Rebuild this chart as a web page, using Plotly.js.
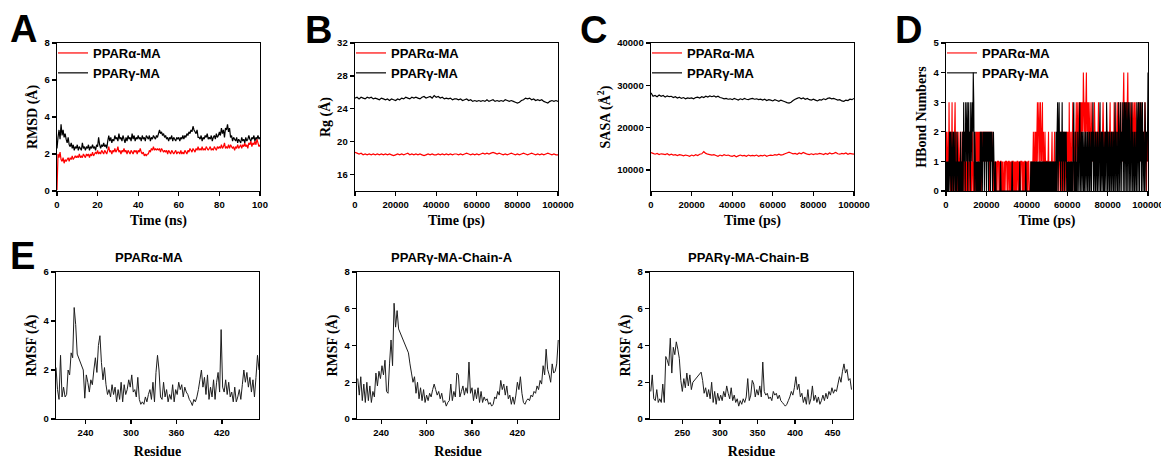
<!DOCTYPE html>
<html>
<head>
<meta charset="utf-8">
<script src="https://cdn.plot.ly/plotly-3.0.1.min.js"></script>
<style>html,body{margin:0;padding:0;background:#fff}#chart{width:1161px;height:459px}</style>
</head>
<body>
<div id="chart"></div>
<script>
// ---------------- DATA ----------------
const seriesNames = ["PPARα-MA", "PPARγ-MA"];
const panelTitlesE = ["PPARα-MA", "PPARγ-MA-Chain-A", "PPARγ-MA-Chain-B"];

// A: RMSD (Å), sampled every 0.5 ns, 0..100 ns
const rmsdAlpha = [
0.05,2.0,1.8,2.1,1.7,1.6,1.8,1.5,1.7,1.6,
1.7,1.8,1.6,1.8,1.7,1.9,1.7,1.8,1.9,1.8,
1.9,1.8,2.0,1.8,1.9,1.8,2.0,1.9,1.8,2.0,
1.9,2.0,1.8,2.0,1.9,2.1,1.9,2.0,2.1,2.0,
2.2,2.0,2.1,2.0,2.2,2.1,2.0,2.2,2.1,2.0,
2.2,2.4,2.1,2.2,2.0,2.2,2.1,2.3,2.1,2.2,
2.4,2.1,2.2,2.0,2.2,2.1,2.3,2.1,2.2,2.0,
2.2,2.1,2.0,2.2,2.1,2.0,2.2,2.1,2.2,2.0,
2.2,2.1,2.3,2.1,2.0,2.1,1.9,2.0,1.9,2.0,
2.0,2.2,2.1,2.3,2.2,2.4,2.2,2.3,2.2,2.3,
2.2,2.3,2.1,2.3,2.2,2.1,2.2,2.1,2.2,2.0,
2.2,2.1,2.0,2.2,2.1,2.0,2.1,2.2,2.0,2.1,
2.1,2.0,2.2,2.0,2.1,2.0,2.2,2.1,2.0,2.2,
2.1,2.3,2.2,2.1,2.3,2.2,2.1,2.3,2.2,2.4,
2.2,2.3,2.2,2.4,2.2,2.3,2.2,2.4,2.3,2.2,
2.3,2.4,2.2,2.3,2.2,2.4,2.3,2.2,2.4,2.3,
2.4,2.3,2.5,2.3,2.4,2.6,2.3,2.4,2.3,2.5,
2.3,2.5,2.4,2.3,2.4,2.2,2.4,2.3,2.5,2.3,
2.4,2.5,2.3,2.5,2.4,2.6,2.4,2.5,2.3,2.6,
2.5,2.7,2.4,2.6,2.5,2.7,2.5,2.8,2.6,2.4,
2.5];
const rmsdGamma = [
2.3,2.9,3.3,2.8,3.6,3.0,3.3,2.9,3.1,2.8,
2.6,2.9,2.5,2.4,2.6,2.3,2.5,2.2,2.4,2.3,
2.5,2.2,2.4,2.3,2.2,2.6,2.3,2.4,2.2,2.4,
2.3,2.5,2.2,2.4,2.3,2.5,2.3,2.4,2.2,2.5,
2.4,2.9,2.5,2.3,2.5,2.4,2.6,2.4,2.5,2.3,
2.7,3.0,2.7,2.9,2.6,2.8,2.7,3.0,2.8,2.9,
2.7,3.1,2.8,2.9,2.7,3.0,2.8,2.6,2.9,2.7,
3.0,2.8,2.9,2.7,3.1,2.8,3.0,2.7,2.9,2.8,
3.0,2.8,2.9,2.7,3.0,2.8,2.9,2.7,3.0,2.9,
2.8,3.0,2.7,2.9,2.8,3.0,2.9,2.8,3.0,2.9,
3.1,3.3,3.1,3.2,3.0,3.1,2.9,3.0,2.8,2.9,
2.7,2.9,2.8,3.0,2.7,2.9,2.8,2.7,2.9,2.8,
2.9,2.7,2.9,2.8,3.0,2.8,3.0,2.9,3.1,3.0,
3.2,3.1,3.3,3.2,3.5,3.3,3.2,3.1,3.3,2.9,
2.9,2.8,3.0,2.7,2.9,2.8,3.0,2.9,3.1,2.8,
2.9,2.8,3.0,2.7,2.9,3.0,2.8,3.1,2.9,3.0,
3.2,3.0,3.4,3.1,3.3,2.9,3.4,3.3,3.6,3.2,
3.4,2.9,3.0,2.7,2.9,2.8,2.7,2.9,2.6,2.8,
2.7,2.6,2.9,2.7,2.8,2.6,2.9,2.7,2.8,3.0,
2.8,2.7,2.9,2.8,3.0,2.7,2.9,2.8,3.0,2.8,
2.9];
const rmsdStepNs = 0.5;

// B: Rg (Å), every 1000 ps
const rgAlpha = [
18.7,18.6,18.5,18.6,18.4,18.5,18.4,18.5,18.4,18.5,
18.4,18.5,18.4,18.5,18.4,18.5,18.4,18.5,18.4,18.3,
18.4,18.5,18.4,18.5,18.4,18.5,18.6,18.4,18.5,18.4,
18.5,18.4,18.5,18.4,18.3,18.4,18.5,18.4,18.5,18.4,
18.4,18.5,18.4,18.5,18.4,18.5,18.4,18.5,18.4,18.5,
18.5,18.4,18.5,18.4,18.5,18.6,18.5,18.4,18.5,18.4,
18.5,18.4,18.5,18.6,18.5,18.6,18.5,18.6,18.7,18.6,
18.5,18.6,18.5,18.4,18.5,18.4,18.5,18.6,18.5,18.4,
18.5,18.4,18.5,18.6,18.5,18.4,18.5,18.6,18.5,18.4,
18.5,18.4,18.5,18.4,18.5,18.6,18.5,18.4,18.5,18.4,
18.4];
const rgGamma = [
25.3,25.4,25.2,25.4,25.3,25.2,25.4,25.3,25.4,25.2,
25.3,25.2,25.1,25.3,25.2,25.1,25.2,25.0,25.2,25.1,
25.0,25.2,25.1,25.3,25.2,25.4,25.3,25.2,25.4,25.3,
25.4,25.3,25.2,25.4,25.5,25.3,25.4,25.5,25.3,25.6,
25.4,25.5,25.3,25.4,25.2,25.3,25.2,25.3,25.1,25.2,
25.2,25.1,25.2,25.0,25.1,25.2,25.0,25.1,24.9,25.0,
24.9,25.0,24.9,25.0,24.9,25.1,24.9,25.0,25.1,24.9,
25.0,24.9,25.0,24.9,25.1,25.0,24.9,25.0,24.9,24.8,
24.7,24.8,25.0,25.1,25.3,25.2,25.3,25.1,25.2,25.0,
25.1,25.0,25.1,24.9,24.8,24.7,24.9,25.0,24.9,25.0,
24.9];
const rgStepPs = 1000;

// C: SASA (Å²), every 1000 ps
const sasaAlpha = [
14100,13900,13700,13900,13600,13800,13700,13600,13800,13500,
13700,13500,13600,13400,13600,13500,13300,13500,13400,13200,
13500,13300,13600,13400,13700,13800,14300,13900,13700,13600,
13500,13600,13400,13200,13500,13300,13600,13400,13500,13300,
13200,13400,13100,13300,13500,13300,13400,13200,13500,13300,
13400,13300,13500,13200,13400,13300,13500,13200,13400,13500,
13400,13600,13500,13700,13500,13600,13800,14000,14200,14000,
13800,13900,13700,14000,13800,14100,13900,13700,13600,13800,
13600,13800,13700,13900,13800,13600,13900,13700,14000,13800,
13900,14100,13800,13700,13900,13800,14000,13700,13900,13800,
13700];
const sasaGamma = [
28200,27400,27600,27300,27700,27400,27600,27200,27500,27300,
27400,27100,27300,27000,27200,26900,27100,26800,27000,26900,
27000,26800,27100,27200,27000,27300,27100,27400,27200,27500,
27300,27500,27200,27400,27100,27000,26800,26900,26700,26800,
26600,26900,26700,26500,26800,26600,26900,26700,26600,26800,
26900,26700,26800,26600,26700,26500,26700,26400,26600,26500,
26300,26600,26400,26200,26500,26300,26100,25900,25800,26000,
26400,26700,26900,27100,26800,27000,26700,26900,26600,26500,
26700,26500,26300,26600,26500,26800,26600,26900,27000,26800,
26900,26700,26500,26600,26300,26200,26500,26400,26700,26600,
26900];
const sasaStepPs = 1000;

// D: H-bond numbers, every 250 ps (one row = 5000 ps)
const hbAlpha = [
1,2,0,1,2,0,3,1,2,0,2,1,3,0,2,1,0,2,3,1,
0,2,1,0,2,1,0,1,2,0,1,0,2,1,0,1,2,0,1,0,
1,0,2,1,0,1,0,2,1,0,1,0,1,2,0,1,0,1,0,2,
1,2,1,2,0,2,1,2,1,2,0,2,1,2,1,2,1,2,1,2,
1,2,1,2,1,2,0,2,1,2,1,2,1,0,1,0,1,0,1,0,
1,0,1,1,1,0,1,0,1,1,0,1,0,1,0,0,1,0,1,1,
1,0,1,0,1,1,0,1,0,1,0,1,1,1,0,1,0,1,0,1,
0,1,1,0,1,0,1,0,1,1,1,0,1,0,1,0,1,1,0,1,
0,1,0,1,1,0,0,0,1,0,1,0,1,2,1,0,2,1,2,0,
2,3,1,2,3,2,0,3,2,1,2,3,0,2,1,0,2,1,0,1,
1,0,1,2,0,1,0,1,0,1,2,0,1,0,1,2,0,1,0,1,
1,2,0,1,2,1,0,2,1,0,2,1,2,0,1,2,0,1,2,1,
2,1,2,0,3,1,2,1,0,2,1,3,2,1,0,2,1,2,3,1,
2,3,1,2,3,2,3,1,3,2,3,2,4,3,2,3,1,3,4,2,
3,2,3,1,2,3,2,1,2,3,1,2,1,2,3,2,1,2,1,2,
1,2,3,1,2,1,2,1,2,1,2,3,2,1,2,1,2,1,2,1,
2,1,2,1,2,3,1,2,1,2,1,2,1,3,2,1,2,1,2,3,
2,1,3,2,1,2,3,1,2,1,2,3,4,2,3,2,1,3,2,3,
4,2,3,2,1,2,3,2,1,2,3,1,2,3,2,1,3,2,1,2,
2,3,1,2,3,2,1,2,3,2,1,2,1,2,3,2,1,0,2,1,
2];
const hbGamma = [
1,0,1,0,1,0,1,2,0,2,1,0,2,1,0,2,0,1,2,0,
1,0,2,1,0,1,0,1,0,2,0,1,0,2,0,3,1,2,0,3,
2,1,3,0,2,3,1,2,0,3,2,1,3,2,4,3,0,2,1,0,
1,0,1,0,1,0,1,0,2,0,2,1,0,2,1,2,0,2,1,2,
0,2,1,2,0,2,1,2,0,2,1,2,0,1,2,1,0,0,1,0,
0,0,0,0,0,0,0,0,1,0,0,0,0,0,0,0,0,0,0,0,
0,0,0,0,0,0,0,0,0,0,0,1,0,0,0,0,0,0,0,0,
0,0,0,0,0,0,1,0,0,0,0,0,0,0,0,0,0,0,1,0,
0,0,0,0,0,0,0,0,1,0,1,0,1,0,1,0,1,0,1,0,
1,0,1,0,1,0,1,0,1,0,1,0,1,0,1,0,1,0,1,0,
1,0,1,0,1,0,1,0,1,0,1,0,1,0,1,0,1,0,2,0,
2,3,0,2,3,1,2,0,2,1,3,0,2,1,2,0,2,1,2,0,
1,0,1,0,1,0,1,0,1,0,1,0,2,3,0,1,0,2,0,1,
0,2,1,0,2,3,0,1,2,0,2,1,0,2,0,1,2,0,1,2,
0,2,1,0,2,0,1,2,0,2,1,3,0,2,1,0,2,0,1,2,
0,2,1,0,2,3,0,1,2,0,2,1,0,2,0,1,2,0,3,2,
0,2,1,0,2,0,1,2,0,2,1,0,2,0,1,3,0,2,1,0,
2,0,3,1,0,2,3,0,2,1,3,0,2,3,0,3,2,0,3,2,
0,3,2,0,3,1,0,2,3,0,2,1,0,2,0,1,2,0,3,2,
0,3,2,0,3,1,3,0,2,3,0,2,1,0,3,2,0,2,1,2,
4];
const hbStepPs = 250;

// E: RMSF (Å) per residue (every 2nd residue), residue segments (gaps = missing residues)
const alphaSegments = [[201, 229], [237, 469]];
const alphaRMSF = [
2.1,1.2,0.8,2.6,0.9,1.3,0.9,1.0,2.0,1.8,2.7,2.5,4.55,3.85,2.65,
2.0,0.85,1.8,1.5,1.1,1.6,1.4,2.0,2.5,1.9,3.0,3.4,2.3,1.6,2.1,1.4,1.0,
1.2,0.9,1.4,1.0,1.3,0.7,1.2,0.8,1.5,0.7,1.4,1.0,1.2,1.6,1.3,1.8,1.1,1.2,0.9,1.7,
0.8,0.6,0.7,0.6,0.9,0.7,1.0,1.2,0.8,1.5,0.7,1.9,2.6,2.0,
0.9,0.8,1.5,0.9,1.2,0.7,1.0,0.8,1.4,0.7,1.2,1.0,1.5,1.2,1.4,0.9,1.3,1.1,1.0,0.8,
0.7,0.55,0.8,0.7,0.9,1.2,1.6,2.0,1.3,1.7,1.0,1.8,0.8,1.3,0.9,1.6,0.8,1.5,1.9,1.1,3.65,
1.3,1.1,1.6,1.0,1.5,0.9,1.1,0.7,1.3,0.7,0.9,1.2,0.8,1.4,2.0,1.5,1.9,1.3,1.7,1.1,1.6,0.9,1.7,2.6,2.0];

const chainASegments = [[209, 263], [276, 474]];
const chainARMSF = [
2.2,1.3,2.3,1.0,1.9,0.9,2.0,1.0,1.8,0.9,1.5,1.2,2.5,1.8,2.6,2.2,2.9,2.4,3.2,1.5,
1.4,3.0,4.3,2.9,6.3,5.0,5.9,4.9,
3.6,3.0,2.5,2.0,2.3,1.4,2.0,1.1,1.7,1.0,
1.6,0.9,1.3,1.0,1.4,1.2,1.6,1.9,1.6,1.3,
1.5,1.1,1.4,0.9,1.0,0.7,0.9,1.0,1.9,1.0,
1.5,1.2,2.5,2.4,1.2,1.5,1.8,1.3,1.7,1.4,
3.1,1.4,1.7,1.0,1.6,1.1,1.7,0.9,1.5,0.9,
1.2,1.0,1.1,0.8,0.9,0.7,0.8,1.2,1.1,1.5,
1.3,2.1,1.6,1.9,1.3,1.8,1.1,1.3,0.8,1.2,
0.8,1.3,2.0,1.6,2.3,1.4,0.9,0.8,1.0,1.1,
1.0,1.3,1.2,1.5,1.4,1.8,1.6,2.1,1.9,2.9,
2.4,3.8,2.7,2.4,2.0,3.0,2.5,2.6,3.0,4.3];

const chainBSegments = [[208, 264], [275, 475]];
const chainBRMSF = [
1.5,2.4,1.1,1.0,1.6,0.9,1.1,0.9,1.9,0.9,
3.4,3.2,2.9,4.4,2.5,3.9,3.5,4.2,3.8,3.3,
2.1,1.5,2.2,1.7,2.5,1.8,2.4,1.6,2.0,
2.55,2.1,1.4,1.7,1.2,1.6,1.1,2.0,0.9,1.5,
0.8,1.4,1.0,1.3,1.0,1.5,1.2,1.8,1.4,1.1,
1.7,1.0,1.3,0.9,1.1,0.7,1.0,0.8,1.1,0.9,
1.2,2.2,1.0,1.3,2.1,1.9,1.2,1.6,1.3,1.8,
1.2,3.1,1.5,1.3,1.4,1.1,1.2,1.0,1.5,1.3,
1.4,1.1,1.3,1.0,0.9,0.8,0.7,0.8,1.0,1.2,
1.5,1.3,1.7,2.3,1.6,1.9,1.2,1.4,0.9,1.2,
0.8,1.6,0.8,1.1,1.8,1.0,1.3,0.9,1.2,0.8,
1.0,1.3,1.0,1.4,1.1,1.5,1.3,1.7,1.4,1.6,
1.5,1.9,2.3,2.0,2.6,3.0,2.5,2.7,2.1,2.2,1.6];
const residueStep = 2;

// ---------------- HELPERS ----------------
const W = 1161, H = 459;
const px = v => v / W;
const py = v => 1 - v / H;
function axisTimes(arr, step) { return arr.map((_, i) => i * step); }
function residues(segs, step) {
  const r = [];
  segs.forEach(([a, b]) => { for (let v = a; v <= b; v += step) r.push(v); });
  return r;
}
const RED = '#ff0000', BLK = '#000000', GREY = '#1e1e1e';
const tickFont = {family: 'Liberation Sans, Arial, sans-serif', size: 9.5, color: '#000', weight: 'bold'};
const titleFont = {family: 'Liberation Serif, Times New Roman, serif', size: 14, color: '#000', weight: 'bold'};
const legFont = {family: 'Liberation Sans, Arial, sans-serif', size: 13, color: '#000', weight: 'bold'};

function xax(d, range, title, standoff, extra) {
  return Object.assign({
    domain: [px(d[0]), px(d[1])], range: range, showline: true, mirror: true, linecolor: '#000', linewidth: 1.4,
    ticks: 'outside', ticklen: 4, tickwidth: 1.3, tickcolor: '#000', showgrid: false, zeroline: false,
    tickfont: tickFont, tickformat: 'd', automargin: false, ticklabeloverflow: 'allow',
    title: {text: title, font: titleFont, standoff: standoff}
  }, extra || {});
}
function yax(d, range, title, extra) {
  return Object.assign({
    domain: [py(d[1]), py(d[0])], range: range, showline: true, mirror: true, linecolor: '#000', linewidth: 1.4,
    ticks: 'outside', ticklen: 4, tickwidth: 1.3, tickcolor: '#000', showgrid: false, zeroline: false,
    tickfont: tickFont, tickformat: 'd', automargin: false, ticklabeloverflow: 'allow',
    title: {text: title, font: titleFont, standoff: 3}
  }, extra || {});
}

// ---------------- TRACES ----------------
const traces = [];
function line(x, y, xa, ya, color, name, legend, show, w) {
  traces.push({x: x, y: y, xaxis: xa, yaxis: ya, type: 'scatter', mode: 'lines',
    line: {color: color, width: w, simplify: false}, name: name, legend: legend, showlegend: show, hoverinfo: 'skip'});
}
line(axisTimes(rmsdAlpha, rmsdStepNs), rmsdAlpha, 'x', 'y', RED, seriesNames[0], 'legend', true, 1.2);
line(axisTimes(rmsdGamma, rmsdStepNs), rmsdGamma, 'x', 'y', BLK, seriesNames[1], 'legend', true, 1.2);
line(axisTimes(rgAlpha, rgStepPs), rgAlpha, 'x2', 'y2', RED, seriesNames[0], 'legend2', true, 1.2);
line(axisTimes(rgGamma, rgStepPs), rgGamma, 'x2', 'y2', BLK, seriesNames[1], 'legend2', true, 1.2);
line(axisTimes(sasaAlpha, sasaStepPs), sasaAlpha, 'x3', 'y3', RED, seriesNames[0], 'legend3', true, 1.2);
line(axisTimes(sasaGamma, sasaStepPs), sasaGamma, 'x3', 'y3', BLK, seriesNames[1], 'legend3', true, 1.2);
line(axisTimes(hbAlpha, hbStepPs), hbAlpha, 'x4', 'y4', RED, seriesNames[0], 'legend4', true, 1.1);
line(axisTimes(hbGamma, hbStepPs), hbGamma, 'x4', 'y4', BLK, seriesNames[1], 'legend4', true, 1.1);
line(residues(alphaSegments, residueStep), alphaRMSF, 'x5', 'y5', GREY, panelTitlesE[0], 'legend', false, 1);
line(residues(chainASegments, residueStep), chainARMSF, 'x6', 'y6', GREY, panelTitlesE[1], 'legend', false, 1);
line(residues(chainBSegments, residueStep), chainBRMSF, 'x7', 'y7', GREY, panelTitlesE[2], 'legend', false, 1);

// ---------------- LAYOUT ----------------
const rowTop = [43, 191], rowBot = [272, 419];
function leg(xpix) {
  return {x: px(xpix), y: py(38), xanchor: 'left', yanchor: 'top', bgcolor: 'rgba(0,0,0,0)',
    font: legFont, tracegroupgap: 0, itemwidth: 30};
}
const letter = (t, x, y) => ({text: t, x: px(x), y: py(y), xref: 'paper', yref: 'paper', showarrow: false,
  xanchor: 'center', yanchor: 'middle', font: {family: 'Liberation Sans, Arial, sans-serif', size: 38, weight: 'bold', color: '#000'}});
const ptitle = (t, x, y) => ({text: t, x: px(x), y: py(y), xref: 'paper', yref: 'paper', showarrow: false,
  xanchor: 'center', yanchor: 'middle', font: {family: 'Liberation Sans, Arial, sans-serif', size: 13, weight: 'bold', color: '#000'}});

const layout = {
  width: W, height: H, margin: {l: 0, r: 0, t: 0, b: 0}, paper_bgcolor: '#fff', plot_bgcolor: '#fff',
  showlegend: true,
  xaxis: xax([57, 260], [0, 100], 'Time (ns)', 6, {dtick: 20, anchor: 'y'}),
  yaxis: yax(rowTop, [0, 8], 'RMSD (Å)', {dtick: 2, anchor: 'x'}),
  xaxis2: xax([355, 558], [0, 100000], 'Time (ps)', 6, {dtick: 20000, anchor: 'y2'}),
  yaxis2: yax(rowTop, [14, 32], 'Rg (Å)', {tickvals: [16, 20, 24, 28, 32], anchor: 'x2'}),
  xaxis3: xax([651, 854], [0, 100000], 'Time (ps)', 6, {dtick: 20000, anchor: 'y3'}),
  yaxis3: yax(rowTop, [5000, 40000], 'SASA (Å<sup>2</sup>)', {tickvals: [10000, 20000, 30000, 40000], anchor: 'x3'}),
  xaxis4: xax([946, 1148], [0, 100000], 'Time (ps)', 6, {dtick: 20000, anchor: 'y4'}),
  yaxis4: yax(rowTop, [0, 5], 'HBond Numbers', {dtick: 1, anchor: 'x4'}),
  xaxis5: xax([56, 259], [201, 469], 'Residue', 9, {tickvals: [240, 300, 360, 420], anchor: 'y5'}),
  yaxis5: yax(rowBot, [0, 6], 'RMSF (Å)', {dtick: 2, anchor: 'x5'}),
  xaxis6: xax([357, 559], [208, 475], 'Residue', 9, {tickvals: [240, 300, 360, 420], anchor: 'y6'}),
  yaxis6: yax(rowBot, [0, 8], 'RMSF (Å)', {dtick: 2, anchor: 'x6'}),
  xaxis7: xax([650, 853], [207, 477], 'Residue', 9, {tickvals: [250, 300, 350, 400, 450], anchor: 'y7'}),
  yaxis7: yax(rowBot, [0, 8], 'RMSF (Å)', {dtick: 2, anchor: 'x7'}),
  legend: leg(53), legend2: leg(351), legend3: leg(647), legend4: leg(942),
  annotations: [
    letter('A', 23, 29), letter('B', 318, 30), letter('C', 593, 30), letter('D', 908, 30), letter('E', 22, 256),
    ptitle(panelTitlesE[0], 149, 257), ptitle(panelTitlesE[1], 452, 257), ptitle(panelTitlesE[2], 748, 257)
  ]
};

Plotly.newPlot('chart', traces, layout, {staticPlot: true, displayModeBar: false});
</script>
</body>
</html>
